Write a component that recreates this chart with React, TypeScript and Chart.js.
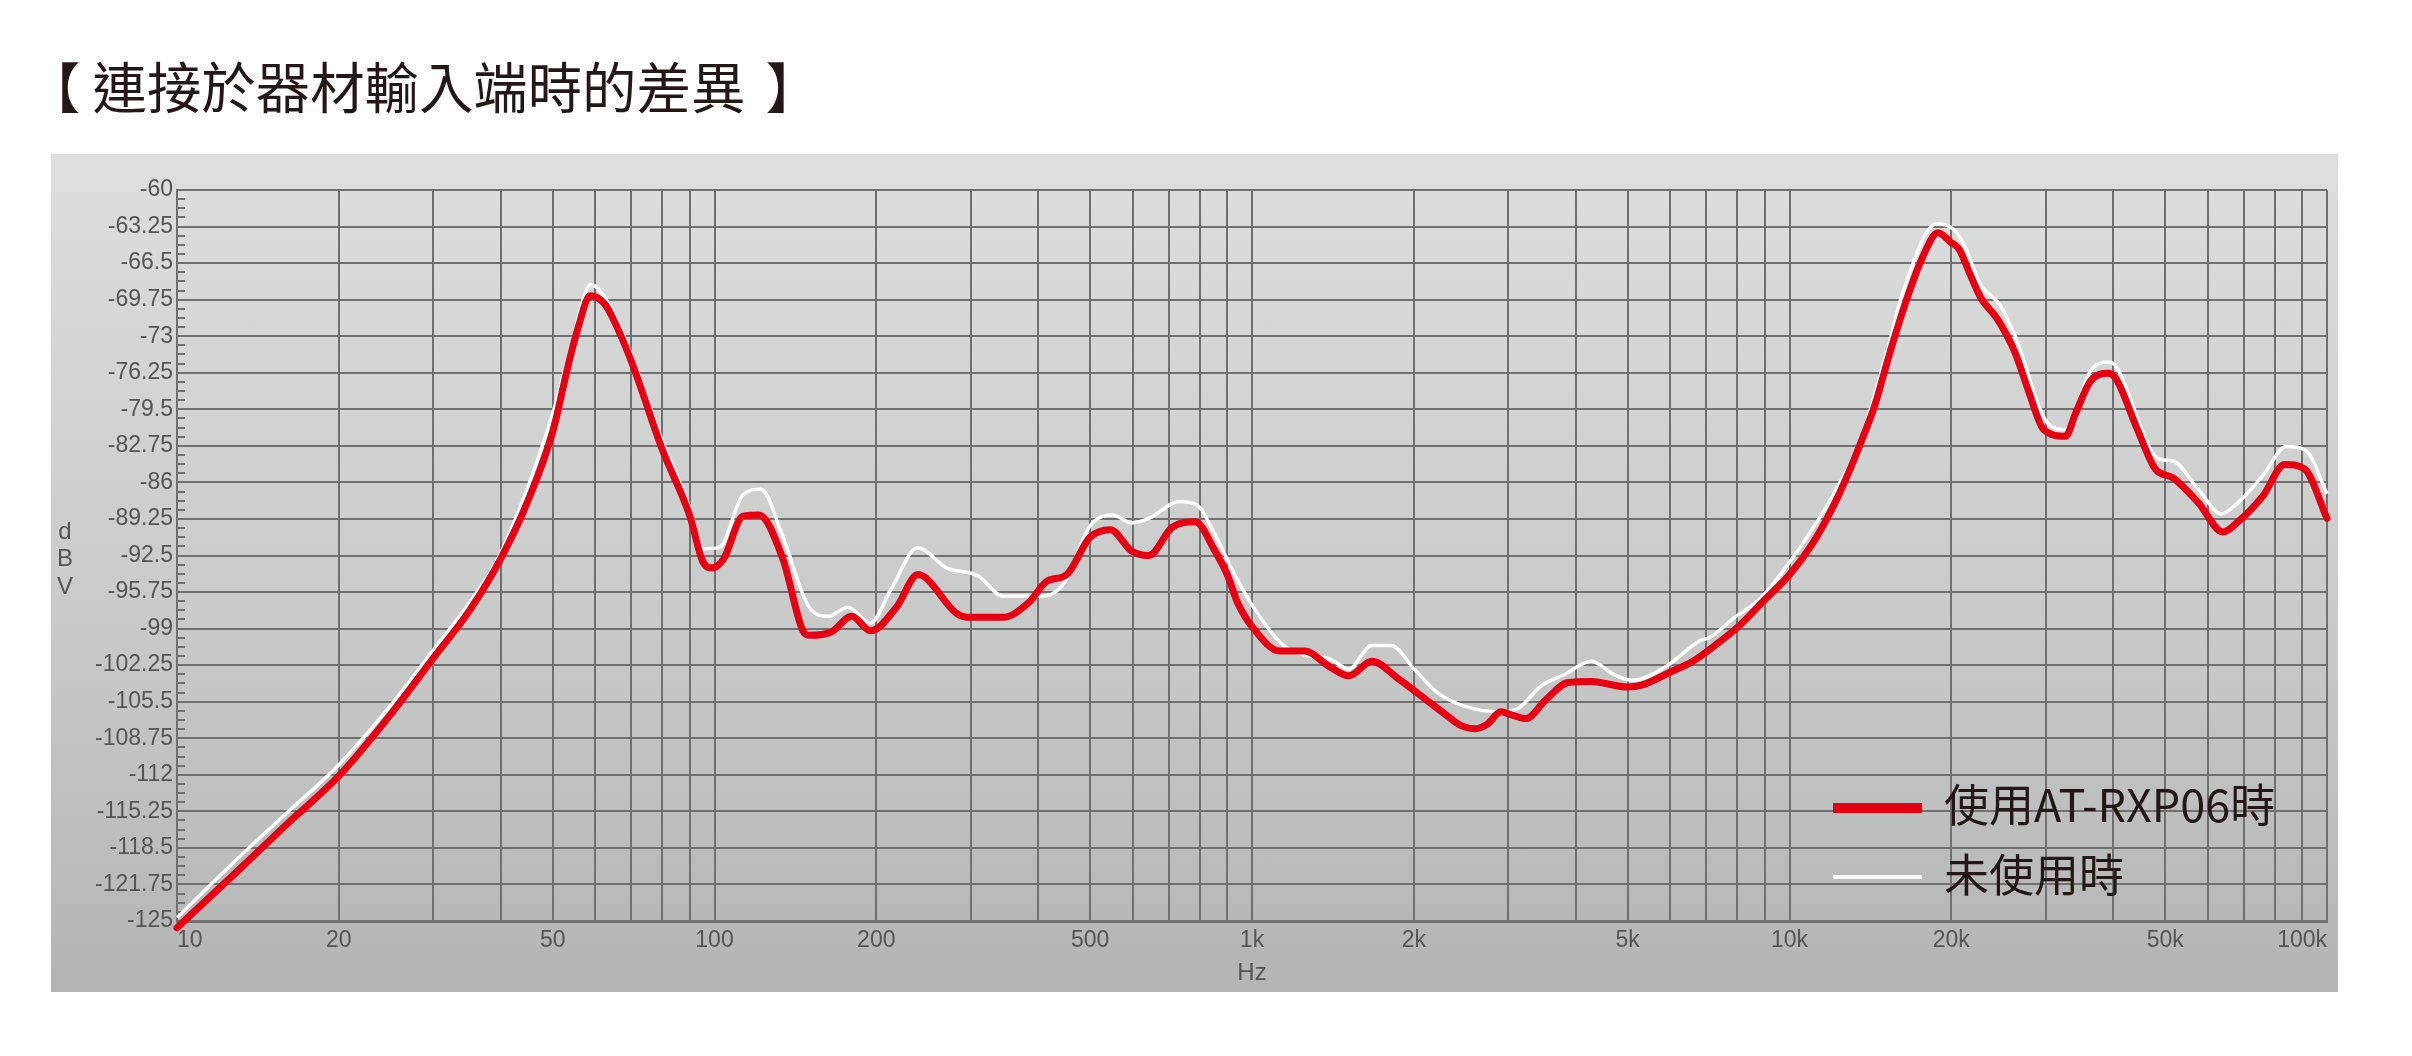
import React, { useEffect, useRef } from 'react';
import { Chart, registerables } from 'chart.js';

Chart.register(...registerables);

const TITLE_OPEN = '【 ';
const TITLE_MAIN = '連接於器材輸入端時的差異 ';
const TITLE_CLOSE = '】';
const SERIES_NAMES = ['使用AT-RXP06時', '未使用時'];
const Y_AXIS_LETTERS = ['d', 'B', 'V'];
const X_AXIS_TITLE = 'Hz';

const Y_TICKS = [-60, -63.25, -66.5, -69.75, -73, -76.25, -79.5, -82.75, -86, -89.25, -92.5, -95.75, -99, -102.25, -105.5, -108.75, -112, -115.25, -118.5, -121.75, -125];
const Y_TICK_LABELS = ['-60', '-63.25', '-66.5', '-69.75', '-73', '-76.25', '-79.5', '-82.75', '-86', '-89.25', '-92.5', '-95.75', '-99', '-102.25', '-105.5', '-108.75', '-112', '-115.25', '-118.5', '-121.75', '-125'];

const X_GRID = [
  10, 20, 30, 40, 50, 60, 70, 80, 90,
  100, 200, 300, 400, 500, 600, 700, 800, 900,
  1000, 2000, 3000, 4000, 5000, 6000, 7000, 8000, 9000,
  10000, 20000, 30000, 40000, 50000, 60000, 70000, 80000, 90000,
  100000,
];
const X_LABEL_VALUES = [10, 20, 50, 100, 200, 500, 1000, 2000, 5000, 10000, 20000, 50000, 100000];
const X_LABELS = ['10', '20', '50', '100', '200', '500', '1k', '2k', '5k', '10k', '20k', '50k', '100k'];

// 使用AT-RXP06時 (red)
const FREQ_RED = [
  10, 13, 16, 20, 25, 30, 35, 40, 45, 50, 53.6, 55.7, 58.7, 62.4, 64.4, 70, 80, 90, 95, 99,
  104, 113, 121, 134, 146, 150, 165, 180, 195, 218, 239, 283, 300, 344, 384, 415, 452, 499, 545, 597,
  643, 710, 784, 851, 901, 940, 1003, 1127, 1253, 1396, 1514, 1671, 1875, 2105, 2285, 2442, 2608, 2740, 2903, 3050,
  3234, 3509, 3873, 4275, 5000, 5330, 5980, 6610, 7310, 8080, 8920, 10000, 11050, 12040, 12940, 13690, 14400, 15300, 16500, 17600,
  18900, 19900, 20700, 21500, 22700, 24300, 26300, 27900, 29700, 32600, 34100, 36300, 39200, 40500, 44400, 47900, 51700, 57600, 64000, 68300,
  76000, 83400, 90800, 100000,
];
const DBV_RED = [
  -125.6, -120.5, -116.4, -112.1, -106.6, -101.6, -97.4, -92.8, -87.6, -81.5, -75.3, -72.3, -69.4, -70.1, -71.2, -75.2, -83.1, -89.0, -93.0, -93.6,
  -92.8, -89.0, -88.9, -92.8, -99.2, -99.6, -99.3, -97.9, -99.2, -97.1, -94.2, -97.7, -98.0, -98.0, -96.7, -94.8, -94.2, -90.9, -90.2, -92.1,
  -92.5, -90.0, -89.5, -92.0, -94.3, -96.7, -98.9, -101.0, -101.0, -102.4, -103.2, -101.9, -103.5, -105.3, -106.6, -107.6, -107.9, -107.5, -106.4, -106.7,
  -107.0, -105.4, -103.8, -103.7, -104.2, -104.0, -102.9, -101.9, -100.4, -98.7, -96.6, -94.2, -91.4, -88.2, -84.9, -82.0, -79.2, -74.8, -69.8, -66.2,
  -63.8, -64.6, -65.3, -67.1, -69.6, -71.4, -74.5, -78.0, -81.3, -81.9, -79.8, -77.0, -76.3, -76.8, -81.3, -84.8, -85.6, -87.8, -90.4, -89.5,
  -87.2, -84.4, -84.8, -89.2,
];

// 未使用時 (white)
const FREQ_WHITE = [
  10, 13, 16, 20, 25, 30, 35, 40, 50, 54, 58.9, 63, 68, 80, 90, 95, 102, 113, 122, 134, 150,
  163, 177, 195, 213, 239, 270, 309, 344, 410, 448, 499, 550, 598, 643, 733, 790, 851, 924, 1003, 1144,
  1264, 1396, 1514, 1671, 1814, 2003, 2212, 2482, 2879, 3126, 3451, 3810, 4275, 4722, 5100, 5920, 6800, 7100, 7960, 8800,
  9860, 11220, 12390, 13500, 14200, 15300, 16300, 18800, 20200, 21200, 22600, 24700, 26300, 30200, 32600, 36300, 39200, 40500, 48600, 51700,
  57600, 63600, 68300, 76000, 84000, 91500, 100000,
];
const DBV_WHITE = [
  -124.7, -119.4, -115.4, -111.1, -105.8, -100.9, -96.7, -92.3, -79.9, -74.0, -68.4, -69.8, -73.1, -82.3, -88.3, -91.9, -91.8, -87.1, -86.6, -90.8, -97.1,
  -97.9, -97.1, -98.5, -95.5, -91.8, -93.6, -94.3, -96.1, -96.1, -94.9, -89.9, -88.9, -89.6, -89.2, -87.7, -88.0, -90.5, -94.0, -97.0, -100.5,
  -101.4, -101.7, -102.6, -100.5, -100.5, -102.6, -104.7, -105.9, -106.4, -106.1, -104.1, -103.1, -101.9, -103.1, -103.6, -102.3, -100.1, -99.8, -97.9, -96.4,
  -93.5, -89.6, -86.1, -82.5, -79.2, -73.8, -68.9, -63.0, -63.5, -65.0, -68.3, -70.3, -73.0, -80.7, -81.3, -76.1, -75.3, -75.7, -83.9, -84.1,
  -86.6, -88.8, -87.8, -85.4, -82.8, -83.2, -87.0,
];

const RED = '#e60012';
const WHITE = '#ffffff';
const GRID = '#707070';
const LABEL = '#555555';
const INK = '#231815';
const LATIN = '"Liberation Sans", Arial, Helvetica, sans-serif';
const CJK = '"Noto Sans CJK TC", "Noto Sans CJK JP", "Noto Sans", sans-serif';

const decorPlugin = {
  id: 'decor',
  beforeDatasetsDraw(chart: any) {
    const { ctx, chartArea } = chart;
    const y = chart.scales.y;
    ctx.save();
    ctx.strokeStyle = GRID;
    ctx.lineWidth = 2;
    for (let i = 0; i < Y_TICKS.length - 1; i++) {
      for (let k = 1; k < 4; k++) {
        const v = Y_TICKS[i] + ((Y_TICKS[i + 1] - Y_TICKS[i]) * k) / 4;
        const py = Math.round(y.getPixelForValue(v));
        ctx.beginPath();
        ctx.moveTo(chartArea.left, py);
        ctx.lineTo(chartArea.left + 8, py);
        ctx.stroke();
      }
    }
    ctx.restore();
  },
  afterDraw(chart: any) {
    const { ctx, chartArea } = chart;
    const cy = (chartArea.top + chartArea.bottom) / 2;
    ctx.save();
    ctx.fillStyle = LABEL;
    ctx.font = `24px ${LATIN}`;
    ctx.textAlign = 'center';
    ctx.textBaseline = 'alphabetic';
    const offs = [-17, 10, 38];
    Y_AXIS_LETTERS.forEach((ch, i) => {
      ctx.fillText(ch, 65, cy + offs[i]);
    });
    ctx.restore();
  },
};

export default function App() {
  const ref = useRef<HTMLCanvasElement>(null);

  useEffect(() => {
    const canvas = ref.current;
    if (!canvas) return;
    const redData = FREQ_RED.map((f, i) => ({ x: f, y: DBV_RED[i] }));
    const whiteData = FREQ_WHITE.map((f, i) => ({ x: f, y: DBV_WHITE[i] }));
    const chart = new Chart(canvas, {
      type: 'line',
      data: {
        datasets: [
          {
            label: SERIES_NAMES[0],
            data: redData,
            borderColor: RED,
            backgroundColor: RED,
            borderWidth: 7,
            pointRadius: 0,
            cubicInterpolationMode: 'monotone',
            borderJoinStyle: 'round',
            borderCapStyle: 'round',
            clip: 12,
          },
          {
            label: SERIES_NAMES[1],
            data: whiteData,
            borderColor: WHITE,
            backgroundColor: WHITE,
            borderWidth: 3.5,
            pointRadius: 0,
            cubicInterpolationMode: 'monotone',
            borderJoinStyle: 'round',
            clip: 12,
          },
        ],
      },
      options: {
        responsive: false,
        animation: false,
        devicePixelRatio: 1,
        layout: { padding: { left: 51, right: 85, top: 190, bottom: 73 } },
        plugins: {
          legend: { display: false },
          tooltip: { enabled: false },
          title: { display: false },
        },
        scales: {
          x: {
            type: 'logarithmic',
            min: 10,
            max: 100000,
            afterBuildTicks: (s: any) => {
              s.ticks = X_GRID.map((v) => ({ value: v }));
            },
            afterFit: (s: any) => {
              s.height = 62;
            },
            grid: { color: GRID, lineWidth: 2, drawTicks: false },
            border: { color: GRID, width: 3 },
            ticks: {
              autoSkip: false,
              maxRotation: 0,
              minRotation: 0,
              align: 'inner',
              padding: 8,
              color: LABEL,
              font: { family: LATIN, size: 23, lineHeight: 1 },
              callback: (value: any) => {
                const i = X_LABEL_VALUES.indexOf(Number(value));
                return i >= 0 ? X_LABELS[i] : '';
              },
            },
            title: {
              display: true,
              text: X_AXIS_TITLE,
              color: LABEL,
              font: { family: LATIN, size: 24, lineHeight: 1 },
              padding: { top: 0, bottom: -2 },
            },
          },
          y: {
            type: 'linear',
            min: -125,
            max: -60,
            afterBuildTicks: (s: any) => {
              s.ticks = Y_TICKS.map((v) => ({ value: v }));
            },
            afterFit: (s: any) => {
              s.width = 126;
            },
            grid: { color: GRID, lineWidth: 2, drawTicks: false },
            border: { color: GRID, width: 2 },
            ticks: {
              padding: 4,
              color: LABEL,
              font: { family: LATIN, size: 23, lineHeight: 1 },
              callback: (value: any) => {
                const i = Y_TICKS.indexOf(Number(value));
                return i >= 0 ? Y_TICK_LABELS[i] : '';
              },
            },
          },
        },
      },
      plugins: [decorPlugin],
    } as any);
    return () => chart.destroy();
  }, []);

  return (
    <div style={{ position: 'absolute', left: 0, top: 0, width: 2412, height: 1056, background: '#ffffff', overflow: 'hidden' }}>
      <div
        style={{
          position: 'absolute',
          left: 51,
          top: 154,
          width: 2287,
          height: 838,
          background: 'linear-gradient(to bottom, #dddede 0%, #c9caca 55%, #b3b4b4 100%)',
        }}
      />
      <canvas ref={ref} width={2412} height={1056} style={{ position: 'absolute', left: 0, top: 0, width: 2412, height: 1056 }} />
      <div
        style={{
          position: 'absolute',
          left: 26,
          top: 58,
          fontFamily: CJK,
          fontSize: 54.4,
          lineHeight: '54px',
          color: INK,
          whiteSpace: 'pre',
        }}
      >
        {TITLE_OPEN}
        {TITLE_MAIN}
        <span style={{ marginLeft: 8 }}>{TITLE_CLOSE}</span>
      </div>
      <div style={{ position: 'absolute', left: 1833, top: 803, width: 89, height: 10, background: RED }} />
      <div style={{ position: 'absolute', left: 1833, top: 875, width: 89, height: 4, background: WHITE }} />
      <div
        style={{ position: 'absolute', left: 1944, top: 780, fontFamily: CJK, fontSize: 45, lineHeight: '45px', color: INK, whiteSpace: 'pre' }}
      >
        {SERIES_NAMES[0]}
      </div>
      <div
        style={{ position: 'absolute', left: 1944, top: 850, fontFamily: CJK, fontSize: 45, lineHeight: '45px', color: INK, whiteSpace: 'pre' }}
      >
        {SERIES_NAMES[1]}
      </div>
    </div>
  );
}
